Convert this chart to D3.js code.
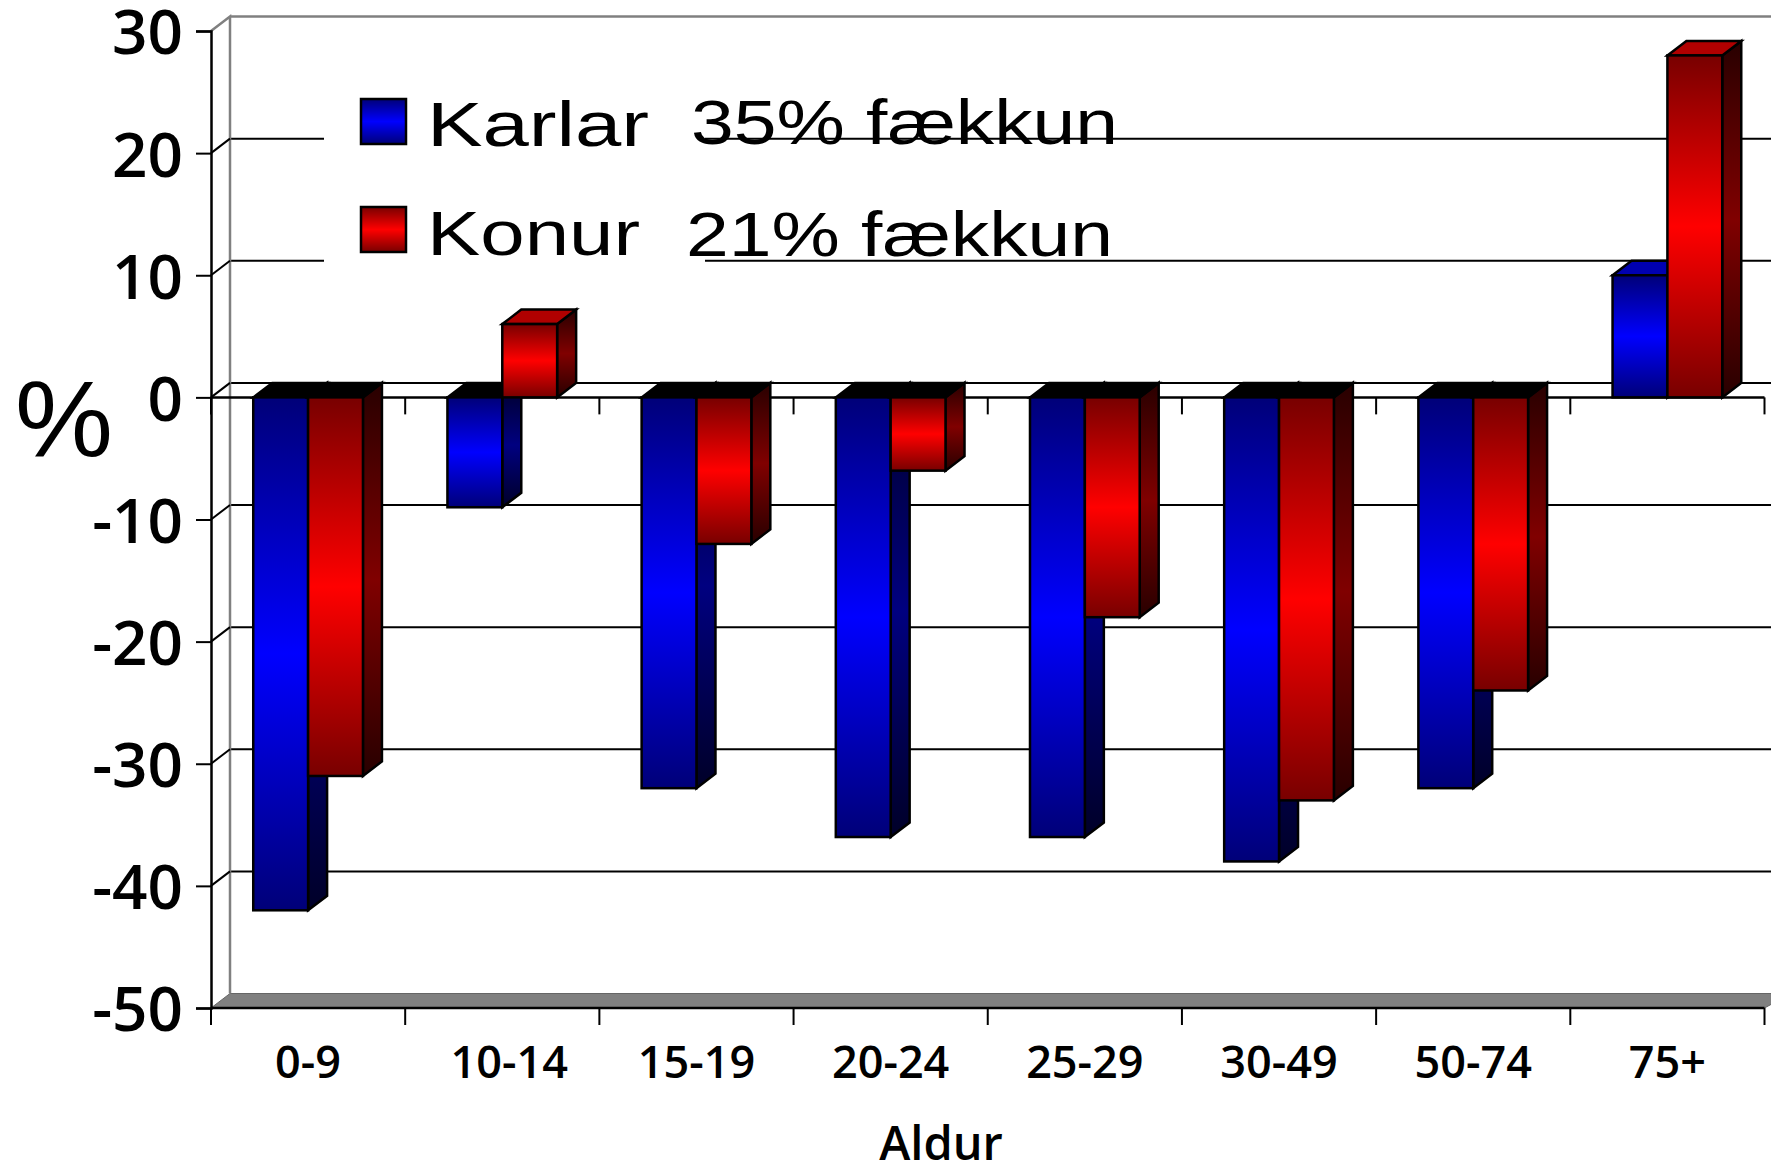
<!DOCTYPE html>
<html>
<head>
<meta charset="utf-8">
<script src="https://cdn.jsdelivr.net/npm/d3@7"></script>
<style>
    body { margin: 0; background: #fff; }
    svg { display: block; }
    text { fill: #000; }
</style>
</head>
<body>
<script>
var categories = ["0-9", "10-14", "15-19", "20-24", "25-29", "30-49", "50-74", "75+"];
var seriesNames = ["Karlar", "Konur"];
var karlar = [-42, -9, -32, -36, -36, -38, -32, 10];
var konur = [-31, 6, -12, -6, -18, -33, -24, 28];
var yTicks = [30, 20, 10, 0, -10, -20, -30, -40, -50];
var legendNotes = ["35% fækkun", "21% fækkun"];

var width = 1771,
    height = 1163;

var depthX = 19,
    depthY = 14.5;

var svg = d3.select("body").append("svg")
    .attr("width", width)
    .attr("height", height);

var y = d3.scaleLinear().domain([-50, 30]).range([1008, 31]);
var x = d3.scaleBand().domain(categories).range([211, 1764.5]);
var xInner = d3.scaleBand().domain(seriesNames).range([0, x.bandwidth()]).paddingOuter(0.77);

// gradients
var defs = svg.append("defs");
function addGradient(id, edge, mid) {
    var g = defs.append("linearGradient").attr("id", id)
        .attr("x1", 0).attr("y1", 0).attr("x2", 0).attr("y2", 1);
    g.append("stop").attr("offset", "0%").attr("stop-color", edge);
    g.append("stop").attr("offset", "50%").attr("stop-color", mid);
    g.append("stop").attr("offset", "100%").attr("stop-color", edge);
}
addGradient("blueFront", "#000078", "#0000ff");
addGradient("redFront", "#780000", "#ff0000");
addGradient("blueSide", "#000028", "#000080");
addGradient("redSide", "#280000", "#800000");

var styles = {
    Karlar: {front: "url(#blueFront)", side: "url(#blueSide)", top: "#0000b0"},
    Konur: {front: "url(#redFront)", side: "url(#redSide)", top: "#b00000"}
};

var wallX = x.range()[0] + depthX;

// gridlines on the back wall
svg.append("g").selectAll("line")
    .data(yTicks.filter(function (d) { return d > -50 && d < 30; }))
    .enter().append("line")
    .attr("x1", wallX)
    .attr("x2", width)
    .attr("y1", function (d) { return y(d) - depthY; })
    .attr("y2", function (d) { return y(d) - depthY; })
    .attr("stroke", "#000")
    .attr("stroke-width", 2);

// legend background cuts the gridlines
svg.append("rect")
    .attr("x", 324).attr("y", 80)
    .attr("width", 381).attr("height", 190)
    .attr("fill", "#fff");

// walls and floor
svg.append("path")
    .attr("d", d3.line()([[x.range()[0], y(-50)], [wallX, y(-50) - depthY], [width + 20, y(-50) - depthY], [x.range()[1] + 0, y(-50)]]) + "Z")
    .attr("fill", "#808080")
    .attr("stroke", "#666")
    .attr("stroke-width", 1);
svg.append("path")
    .attr("d", d3.line()([[x.range()[0], y(30)], [wallX, y(30) - depthY], [wallX, y(-50) - depthY]]))
    .attr("fill", "none")
    .attr("stroke", "#808080")
    .attr("stroke-width", 2.5);
svg.append("line")
    .attr("x1", wallX).attr("x2", width)
    .attr("y1", y(30) - depthY).attr("y2", y(30) - depthY)
    .attr("stroke", "#808080")
    .attr("stroke-width", 2.5);

// depth connectors from the axis to the wall
svg.append("g").selectAll("line")
    .data(yTicks.filter(function (d) { return d > -50 && d < 30; }))
    .enter().append("line")
    .attr("x1", x.range()[0])
    .attr("x2", wallX)
    .attr("y1", function (d) { return y(d); })
    .attr("y2", function (d) { return y(d) - depthY; })
    .attr("stroke", "#000")
    .attr("stroke-width", 2);

// y axis
var yAxis = svg.append("g")
    .attr("transform", "translate(" + x.range()[0] + ",0)")
    .call(d3.axisLeft(y).tickValues(yTicks).tickSize(15).tickPadding(13)
        .tickFormat(function (d) { return String(d); }));
yAxis.selectAll("path").attr("stroke", "#000").attr("stroke-width", 2.5);
yAxis.selectAll("line").attr("stroke", "#000").attr("stroke-width", 2);
yAxis.selectAll("text")
    .attr("dy", "0.37em")
    .style("font-family", "'Open Sans', sans-serif")
    .style("font-weight", 600)
    .style("font-size", "62px");

// category boundary ticks
var boundaries = categories.map(function (c) { return x(c); }).concat([x.range()[1]]);
function drawBaseline(v) {
    svg.append("line")
        .attr("x1", x.range()[0]).attr("x2", x.range()[1])
        .attr("y1", y(v)).attr("y2", y(v))
        .attr("stroke", "#000").attr("stroke-width", 2.5);
    svg.append("g").selectAll("line")
        .data(boundaries)
        .enter().append("line")
        .attr("x1", function (d) { return d; })
        .attr("x2", function (d) { return d; })
        .attr("y1", y(v))
        .attr("y2", y(v) + 17)
        .attr("stroke", "#000")
        .attr("stroke-width", 2);
}
drawBaseline(0);
drawBaseline(-50);

// bars
var line = d3.line();
var bars = [];
categories.forEach(function (c, i) {
    bars.push({cat: c, name: "Karlar", value: karlar[i]});
    bars.push({cat: c, name: "Konur", value: konur[i]});
});
var barGroups = svg.append("g").selectAll("g")
    .data(bars)
    .enter().append("g")
    .attr("stroke", "#000")
    .attr("stroke-width", 2.5)
    .attr("stroke-linejoin", "miter");

function barBox(d) {
    var x0 = x(d.cat) + xInner(d.name);
    return {
        x0: x0,
        x1: x0 + xInner.bandwidth(),
        top: Math.min(y(0), y(d.value)),
        bottom: Math.max(y(0), y(d.value))
    };
}

barGroups.append("path")
    .attr("d", function (d) {
        var b = barBox(d);
        return line([[b.x1, b.top], [b.x1 + depthX, b.top - depthY], [b.x1 + depthX, b.bottom - depthY], [b.x1, b.bottom]]) + "Z";
    })
    .attr("fill", function (d) { return styles[d.name].side; });

barGroups.append("path")
    .attr("d", function (d) {
        var b = barBox(d);
        return line([[b.x0, b.top], [b.x0 + depthX, b.top - depthY], [b.x1 + depthX, b.top - depthY], [b.x1, b.top]]) + "Z";
    })
    .attr("fill", function (d) { return d.value < 0 ? "#000" : styles[d.name].top; });

barGroups.append("rect")
    .attr("x", function (d) { return barBox(d).x0; })
    .attr("y", function (d) { return barBox(d).top; })
    .attr("width", xInner.bandwidth())
    .attr("height", function (d) { var b = barBox(d); return b.bottom - b.top; })
    .attr("fill", function (d) { return styles[d.name].front; });

// category labels
svg.append("g").selectAll("text")
    .data(categories)
    .enter().append("text")
    .attr("x", function (d) { return x(d) + x.bandwidth() / 2; })
    .attr("dx", function (d) { return d === "10-14" ? 7 : 0; })
    .attr("y", 1078)
    .attr("text-anchor", "middle")
    .style("font-family", "'Open Sans', sans-serif")
    .style("font-weight", 600)
    .style("font-size", "45px")
    .text(function (d) { return d; });

// axis titles
svg.append("text")
    .attr("x", 941).attr("y", 1160)
    .attr("text-anchor", "middle")
    .style("font-family", "'Open Sans', sans-serif")
    .style("font-weight", 600)
    .style("font-size", "47px")
    .text("Aldur");

svg.append("text")
    .attr("x", 15).attr("y", 456)
    .attr("textLength", 98)
    .attr("lengthAdjust", "spacingAndGlyphs")
    .style("font-family", "'Liberation Sans', sans-serif")
    .style("font-size", "108px")
    .text("%");

// legend
var legendRows = [
    {name: seriesNames[0], note: legendNotes[0], swatch: 99, base: 146, noteBase: 144, noteX: 691, nameLen: 222, noteLen: 427},
    {name: seriesNames[1], note: legendNotes[1], swatch: 207, base: 255, noteBase: 256, noteX: 686, nameLen: 213, noteLen: 427}
];
var legend = svg.append("g").selectAll("g")
    .data(legendRows)
    .enter().append("g");
legend.append("rect")
    .attr("x", 361)
    .attr("y", function (d) { return d.swatch; })
    .attr("width", 45)
    .attr("height", 45)
    .attr("fill", function (d) { return styles[d.name].front; })
    .attr("stroke", "#000")
    .attr("stroke-width", 2.5);
legend.append("text")
    .attr("x", 427)
    .attr("y", function (d) { return d.base; })
    .attr("textLength", function (d) { return d.nameLen; })
    .attr("lengthAdjust", "spacingAndGlyphs")
    .style("font-family", "'Liberation Sans', sans-serif")
    .style("font-size", "63px")
    .text(function (d) { return d.name; });
legend.append("text")
    .attr("x", function (d) { return d.noteX; })
    .attr("y", function (d) { return d.noteBase; })
    .attr("textLength", function (d) { return d.noteLen; })
    .attr("lengthAdjust", "spacingAndGlyphs")
    .style("font-family", "'Liberation Sans', sans-serif")
    .style("font-size", "63px")
    .text(function (d) { return d.note; });
</script>
</body>
</html>
